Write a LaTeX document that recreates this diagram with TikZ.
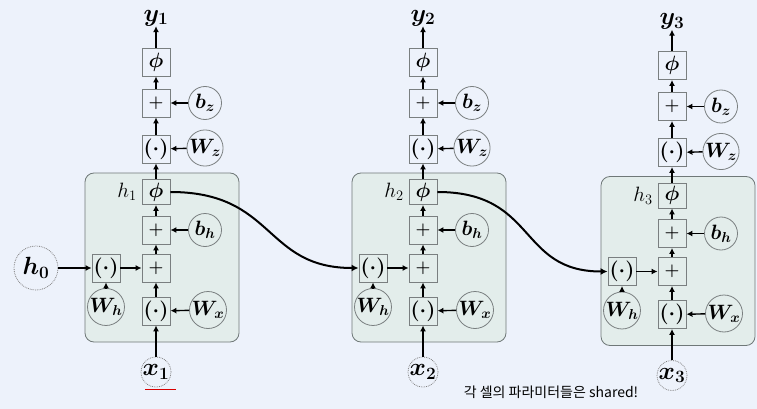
\documentclass[tikz,border=0pt]{standalone}
\usepackage{fontspec}
\newfontfamily\krfont{Noto Sans CJK KR}
\usetikzlibrary{arrows.meta}
\definecolor{bgc}{HTML}{EDF2FB}
\definecolor{cellfill}{HTML}{E3EDEB}
\definecolor{cellline}{HTML}{6F7878}
\definecolor{boxline}{HTML}{7A7F80}
\tikzset{
  opbox/.style={draw=boxline, line width=0.9pt, minimum width=28pt, minimum height=28pt, inner sep=0pt, font=\fontsize{21}{21}\selectfont\boldmath},
  parc/.style={draw=boxline, line width=0.8pt, circle, minimum size=33pt, inner sep=0pt, font=\fontsize{22}{22}\selectfont\boldmath},
  inpc/.style={draw=gray, densely dotted, line width=0.8pt, circle, inner sep=0pt},
  cellbox/.style={draw=cellline, fill=cellfill, line width=0.8pt, rounded corners=9pt},
  arr/.style={-{Latex[length=6pt,width=6pt]}, line width=1.4pt},
  link/.style={-{Latex[length=7pt,width=7pt]}, line width=2pt},
  biglab/.style={font=\fontsize{27}{27}\selectfont\boldmath, inner sep=0pt},
  hlab/.style={font=\fontsize{21}{21}\selectfont, inner sep=0pt},
}
\newcommand\dotop{$\mathbf{(}{\cdot}\mathbf{)}$}
\newcommand\plusop{{\fontsize{17}{17}\selectfont\textbf{+}}}
\newcommand\rnncell[3]{%
\begin{scope}[shift={(#1,#2)}]
  \draw[cellbox] (-71,173) rectangle (83,342);
  % upper output part
  \node[biglab] (y#3) at (0,18) {$y_{#3}$};
  \node[opbox] (phT#3) at (0,62) {$\phi$};
  \node[opbox] (plT#3) at (0,103) {\plusop};
  \node[opbox] (dtT#3) at (0,149) {\dotop};
  \node[parc] (bz#3) at (49,103) {$b_z$};
  \node[parc] (Wz#3) at (49,148) {$W_z$};
  % cell part
  \node[opbox, minimum height=25pt] (phH#3) at (0,192) {$\phi$};
  \node[hlab] (hl#3) at (-29,192) {$h_{#3}$};
  \node[opbox] (plB#3) at (0,230) {\plusop};
  \node[opbox] (plS#3) at (0,268) {\plusop};
  \node[opbox] (dtX#3) at (0,311) {\dotop};
  \node[opbox] (dtH#3) at (-50,268) {\dotop};
  \node[parc, minimum size=32pt] (Wh#3) at (-50,307) {$W_h$};
  \node[parc] (bh#3) at (49,230) {$b_h$};
  \node[parc] (Wx#3) at (52,310) {$W_x$};
  \node[inpc, minimum size=30pt] (x#3) at (0,372) {};
  \node[biglab] at (x#3) {$x_{#3}$};
  % arrows
  \draw[arr] (x#3) -- (dtX#3);
  \draw[arr] (Wx#3) -- (dtX#3);
  \draw[arr] (dtX#3) -- (plS#3);
  \draw[arr] (Wh#3) -- (dtH#3);
  \draw[arr] (dtH#3) -- (plS#3);
  \draw[arr] (plS#3) -- (plB#3);
  \draw[arr] (bh#3) -- (plB#3);
  \draw[arr] (plB#3) -- (phH#3);
  \draw[arr] (phH#3) -- (dtT#3);
  \draw[arr] (Wz#3) -- (dtT#3);
  \draw[arr] (dtT#3) -- (plT#3);
  \draw[arr] (bz#3) -- (plT#3);
  \draw[arr] (plT#3) -- (phT#3);
  \draw[arr] (phT#3) -- (y#3);
\end{scope}}
\begin{document}
\begin{tikzpicture}[x=1pt,y=-1pt]
  \fill[bgc] (0,0) rectangle (757,409);
  \useasboundingbox (0,0) rectangle (757,409);
  \rnncell{156}{0}{1}
  \rnncell{423}{0}{2}
  \rnncell{672}{3.5}{3}
  \node[inpc, minimum size=44pt] (h0) at (36,268) {};
  \node[font=\fontsize{24}{24}\selectfont\boldmath, inner sep=0pt] at (h0) {$h_0$};
  \draw[arr] (h0) -- (dtH1);
  \draw[link] (phH1.east) .. controls +(105,0) and +(-95,0) .. (dtH2.west);
  \draw[link] (phH2.east) .. controls +(100,0) and +(-90,0) .. (dtH3.west);
  \draw[red!85!black, line width=1pt] (145,389) -- (176,389);
  \node[font=\krfont\fontsize{14}{14}\selectfont, inner sep=0pt] (note) at (551,392) {각 셀의 파라미터들은 shared!};
\end{tikzpicture}
\end{document}
